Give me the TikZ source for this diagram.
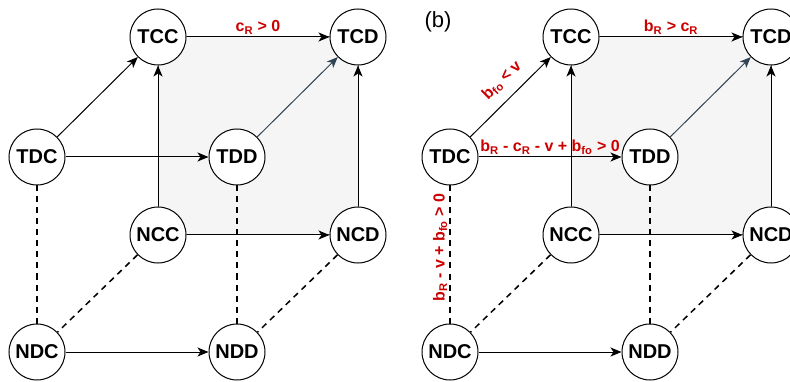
\documentclass[tikz,border=0pt]{standalone}
\usepackage{fontspec}
\setmainfont{Liberation Sans}
\usepackage{xcolor}
\usepackage{tikz}
\usetikzlibrary{shapes.geometric, arrows.meta}
\definecolor{condred}{HTML}{CC0000}
\definecolor{slate}{HTML}{314354}
\definecolor{shade}{HTML}{F5F5F5}
\tikzstyle{state} = [circle, minimum size=56pt, inner sep=0pt, draw=black, line width=1pt, fill=white, font=\fontsize{20}{24}\selectfont\bfseries]
\tikzstyle{arrow} = [line width=1pt,->,>={Stealth[length=11pt,width=9pt,inset=3pt]}]
\tikzstyle{link} = [line width=1.5pt, dash pattern=on 6pt off 5pt]
\tikzstyle{cond} = [text=condred, font=\fontsize{16}{18}\selectfont\bfseries, inner sep=2pt]
\tikzstyle{face} = [fill=shade, draw=black!60, line width=1pt]

\begin{document}
\begin{tikzpicture}[x=1pt, y=-1pt]
		\useasboundingbox (0,0) rectangle (790,382);
		% shaded faces
		\draw [face] (158,37) rectangle (358,235);
		\draw [face] (571,37) rectangle (771,235);
		% left cube
		\node (tcc) [state] at (158,37) {TCC};
		\node (tcd) [state] at (358,37) {TCD};
		\node (tdc) [state] at (37,157) {TDC};
		\node (tdd) [state] at (237,157) {TDD};
		\node (ncc) [state] at (158,235) {NCC};
		\node (ncd) [state] at (358,235) {NCD};
		\node (ndc) [state] at (37,352) {NDC};
		\node (ndd) [state] at (237,352) {NDD};
		\draw [arrow] (tcc) -- node[cond,above] {c\textsubscript{R} > 0} (tcd);
		\draw [arrow] (tdc) -- (tcc);
		\draw [arrow] (tdc) -- (tdd);
		\draw [arrow,slate] (tdd) -- (tcd);
		\draw [arrow] (ncc) -- (tcc);
		\draw [arrow] (ncd) -- (tcd);
		\draw [arrow] (ncc) -- (ncd);
		\draw [arrow] (ndc) -- (ndd);
		\draw [link] (tdc) -- (ndc);
		\draw [link] (ncc) -- (ndc);
		\draw [link] (tdd) -- (ndd);
		\draw [link] (ncd) -- (ndd);
		% right cube
		\node (lblB) at (438,22) {\fontsize{22}{26}\selectfont (b)};
		\node (tccB) [state] at (571,37) {TCC};
		\node (tcdB) [state] at (771,37) {TCD};
		\node (tdcB) [state] at (450,157) {TDC};
		\node (tddB) [state] at (650,157) {TDD};
		\node (nccB) [state] at (571,235) {NCC};
		\node (ncdB) [state] at (771,235) {NCD};
		\node (ndcB) [state] at (450,352) {NDC};
		\node (nddB) [state] at (650,352) {NDD};
		\draw [arrow] (tccB) -- node[cond,above] {b\textsubscript{R} > c\textsubscript{R}} (tcdB);
		\draw [arrow] (tdcB) -- node[cond,above=8pt,sloped,pos=0.55] {b\textsubscript{fo} < v} (tccB);
		\draw [arrow] (tdcB) -- node[cond,above] {b\textsubscript{R} - c\textsubscript{R} - v + b\textsubscript{fo} > 0} (tddB);
		\draw [arrow,slate] (tddB) -- (tcdB);
		\draw [arrow] (nccB) -- (tccB);
		\draw [arrow] (ncdB) -- (tcdB);
		\draw [arrow] (nccB) -- (ncdB);
		\draw [arrow] (ndcB) -- (nddB);
		\draw [link] (ndcB) -- node[cond,above,sloped,pos=0.55] {b\textsubscript{R} - v + b\textsubscript{fo} > 0} (tdcB);
		\draw [link] (nccB) -- (ndcB);
		\draw [link] (tddB) -- (nddB);
		\draw [link] (ncdB) -- (nddB);
	\end{tikzpicture}
\end{document}
